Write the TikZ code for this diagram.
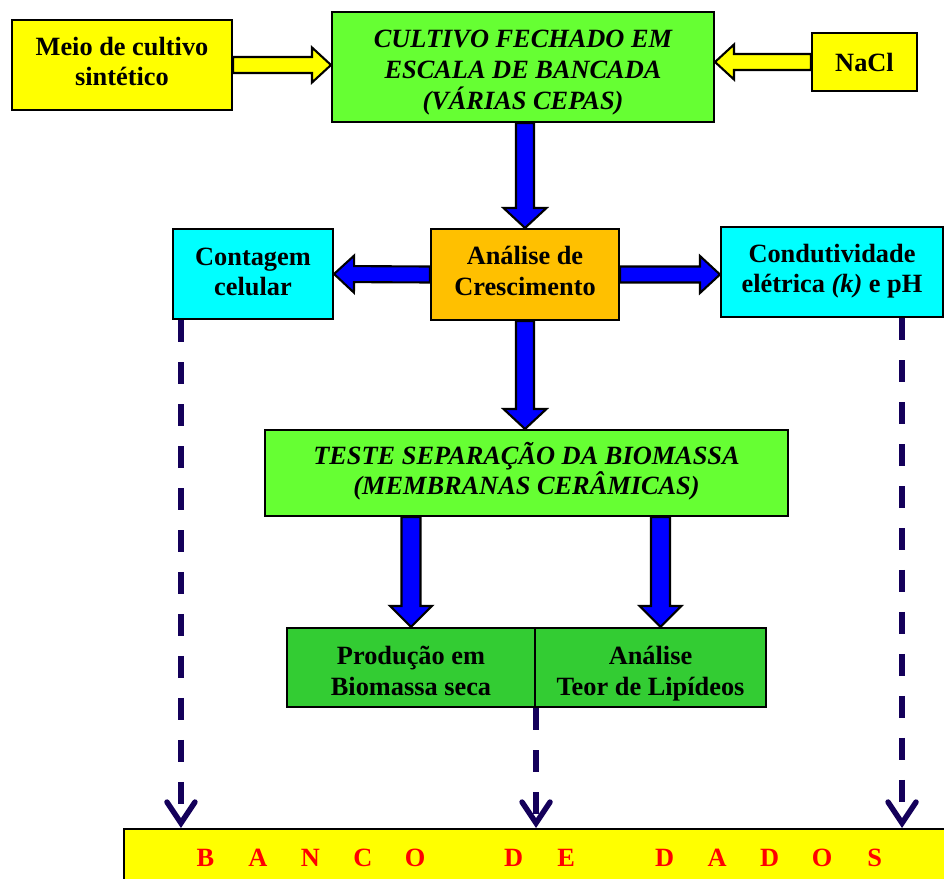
\documentclass[tikz,border=0pt]{standalone}
\usepackage{fontspec}
\setmainfont{Liberation Serif}
\usetikzlibrary{arrows.meta,calc}

\definecolor{boxyellow}{HTML}{FFFF00}
\definecolor{boxlime}{HTML}{66FF33}
\definecolor{boxorange}{HTML}{FFC000}
\definecolor{boxcyan}{HTML}{00FFFF}
\definecolor{boxgreen}{HTML}{33CC33}
\definecolor{navyline}{RGB}{20,0,90}

\tikzset{
  fat shaft/.store in=\fatshaft, fat head/.store in=\fathead, fat len/.store in=\fatlen,
  fat shaft=0.18cm, fat head=0.42cm, fat len=0.4cm
}

% block arrow: [sizes]{fill}{start}{end}
\newcommand{\fatarrow}[4][]{%
  \begin{scope}[#1]
    \coordinate (fa-s) at #3;
    \coordinate (fa-e) at #4;
    \coordinate (fa-h) at ($(fa-e)!\fatlen!(fa-s)$);
    \draw[line width=1.2pt, line join=miter, fill=#2]
      ($(fa-s)!\fatshaft!90:(fa-e)$) -- ($(fa-h)!\fatshaft!-90:(fa-s)$)
      -- ($(fa-h)!\fathead!-90:(fa-s)$) -- (fa-e)
      -- ($(fa-h)!\fathead!90:(fa-s)$) -- ($(fa-h)!\fatshaft!90:(fa-s)$)
      -- ($(fa-s)!\fatshaft!-90:(fa-e)$) -- cycle;
  \end{scope}}

% struts to set the text block in a box
\newcommand{\toph}[1]{\rule{0pt}{#1}}
\newcommand{\botd}[1]{\rule[-#1]{0pt}{#1}}

% one spaced letter of the data bank label
\newcommand{\bankletter}[1]{\makebox[1.05cm]{#1}}

\begin{document}
\begin{tikzpicture}[x=0.02cm, y=-0.02cm,
    box/.style={draw, line width=1.2pt, align=center, inner sep=0pt,
      font=\bfseries\fontsize{15}{17.4}\selectfont},
    ibox/.style={box, font=\bfseries\itshape\fontsize{15}{17.4}\selectfont},
    dasharrow/.style={navyline, line width=3.1pt, dash pattern=on 0.44cm off 0.4cm,
      -{Straight Barb[length=0.42cm, width=0.56cm, line cap=round]}}]

    \useasboundingbox (0,0) rectangle (944,879);

    % top row
    \node[box, fill=boxyellow, minimum width=4.4cm, minimum height=1.8cm] (meio) at (122,65)
      {\toph{12pt}Meio de cultivo\\sintético\botd{5.7pt}};
    \node[ibox, fill=boxlime, minimum width=7.64cm, minimum height=2.2cm] (cultivo) at (523,67)
      {\toph{18pt}CULTIVO FECHADO EM\\ESCALA DE BANCADA\\(VÁRIAS CEPAS)\botd{4.9pt}};
    \node[box, fill=boxyellow, minimum width=2.1cm, minimum height=1.16cm] (nacl) at (864.5,62) {NaCl};

    % growth analysis row
    \node[box, fill=boxorange, minimum width=3.76cm, minimum height=1.82cm] (analise) at (525,274.5)
      {\toph{13pt}Análise de\\Crescimento\botd{6.7pt}};
    \node[box, fill=boxcyan, minimum width=3.2cm, minimum height=1.8cm] (contagem) at (253,274)
      {\toph{13pt}Contagem\\celular\botd{5.6pt}};
    \node[box, fill=boxcyan, minimum width=4.44cm, minimum height=1.8cm] (condut) at (832,272)
      {\toph{13pt}Condutividade\\elétrica \textit{(k)} e pH\botd{6.7pt}};

    % separation test
    \node[ibox, fill=boxlime, minimum width=10.46cm, minimum height=1.72cm] (teste) at (526.5,473)
      {\toph{13pt}TESTE SEPARAÇÃO DA BIOMASSA\\(MEMBRANAS CERÂMICAS)\botd{5.6pt}};

    % results
    \node[box, fill=boxgreen, minimum width=4.96cm, minimum height=1.58cm] (producao) at (411,667.5)
      {\toph{19pt}Produção em\\Biomassa seca\botd{4.8pt}};
    \node[box, fill=boxgreen, minimum width=4.62cm, minimum height=1.58cm] (lipideos) at (650.5,667.5)
      {\toph{19pt}Análise\\Teor de Lipídeos\botd{4.8pt}};

    % data bank
    \node[box, fill=boxyellow, text=red, minimum width=16.64cm, minimum height=1.16cm] (banco) at (540,858)
      {\bankletter{B}\bankletter{A}\bankletter{N}\bankletter{C}\bankletter{O}\hspace{0.92cm}%
       \bankletter{D}\bankletter{E}\hspace{0.92cm}%
       \bankletter{D}\bankletter{A}\bankletter{D}\bankletter{O}\bankletter{S}};

    % yellow inputs
    \fatarrow[fat shaft=0.16cm, fat head=0.35cm, fat len=0.38cm]{boxyellow}{(meio.east)}{(meio.east -| cultivo.west)}
    \fatarrow[fat shaft=0.16cm, fat head=0.35cm, fat len=0.38cm]{boxyellow}{(nacl.west)}{(nacl.west -| cultivo.east)}

    % blue flow
    \fatarrow[fat shaft=0.18cm, fat head=0.43cm]{blue}{(analise.north |- cultivo.south)}{(analise.north)}
    \fatarrow[fat shaft=0.16cm, fat head=0.37cm]{blue}{(analise.west)}{(contagem.east)}
    \fatarrow[fat shaft=0.16cm, fat head=0.37cm]{blue}{(analise.east)}{(analise.east -| condut.west)}
    \fatarrow[fat shaft=0.18cm, fat head=0.43cm]{blue}{(analise.south)}{(analise.south |- teste.north)}
    \fatarrow[fat shaft=0.19cm, fat head=0.42cm, fat len=0.42cm]{blue}{(producao.north |- teste.south)}{(producao.north)}
    \coordinate (lipin) at ([xshift=0.2cm]lipideos.north);
    \fatarrow[fat shaft=0.19cm, fat head=0.42cm, fat len=0.42cm]{blue}{(lipin |- teste.south)}{(lipin)}

    % dashed links to the data bank
    \coordinate (dl) at ([xshift=0.18cm]contagem.south west);
    \coordinate (dr) at ([xshift=-0.84cm]condut.south east);
    \draw[dasharrow] (dl) -- (dl |- banco.north);
    \draw[dasharrow] (producao.south east) -- (producao.south east |- banco.north);
    \draw[dasharrow] (dr) -- (dr |- banco.north);

\end{tikzpicture}
\end{document}
